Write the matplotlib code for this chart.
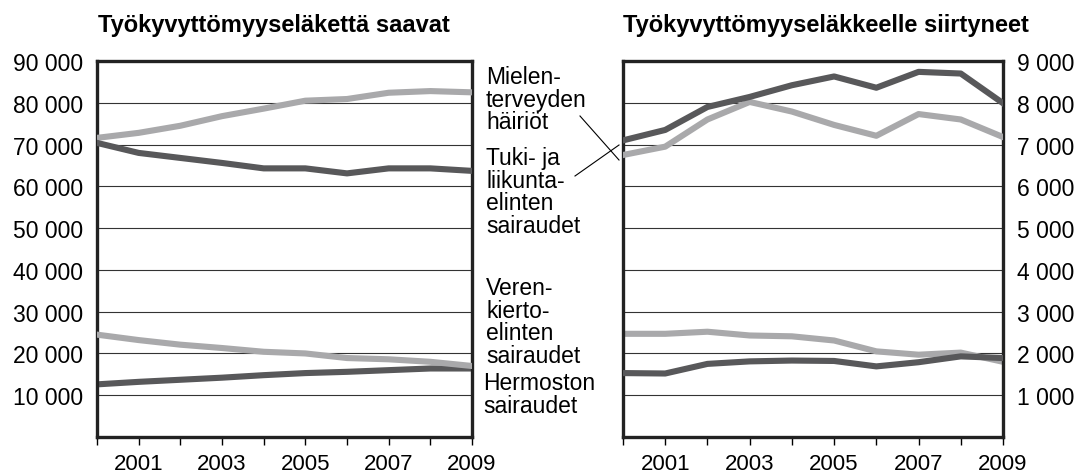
import matplotlib.pyplot as plt

plt.rcParams['font.family'] = ['Liberation Sans', 'DejaVu Sans']

years = [2000, 2001, 2002, 2003, 2004, 2005, 2006, 2007, 2008, 2009]

# Työkyvyttömyyseläkettä saavat
saavat_mielen = [71600, 72800, 74500, 76800, 78600, 80500, 80900, 82400, 82800, 82500]
saavat_tuki = [70400, 68000, 66800, 65600, 64300, 64300, 63100, 64300, 64300, 63700]
saavat_veren = [24500, 23200, 22100, 21300, 20400, 20000, 18900, 18600, 18000, 17000]
saavat_hermo = [12600, 13200, 13700, 14200, 14800, 15300, 15600, 16000, 16400, 16400]

# Työkyvyttömyyseläkkeelle siirtyneet
siirt_mielen = [6750, 6950, 7600, 8020, 7790, 7470, 7210, 7730, 7600, 7180]
siirt_tuki = [7100, 7350, 7900, 8140, 8420, 8630, 8360, 8740, 8700, 7990]
siirt_veren = [2470, 2470, 2520, 2430, 2410, 2310, 2050, 1970, 2020, 1800]
siirt_hermo = [1530, 1520, 1750, 1810, 1830, 1820, 1690, 1790, 1930, 1890]

left_ticks = [10000, 20000, 30000, 40000, 50000, 60000, 70000, 80000, 90000]
right_ticks = [1000, 2000, 3000, 4000, 5000, 6000, 7000, 8000, 9000]
year_labels = [2001, 2003, 2005, 2007, 2009]

dark = '#58585a'
light = '#a9a9ab'
W, H = 1080, 477

fig = plt.figure(figsize=(10.8, 4.77), dpi=100)
ax1 = fig.add_axes([97 / W, 39 / H, 375 / W, 376 / H])
ax2 = fig.add_axes([623 / W, 39 / H, 380 / W, 376 / H])


def style(ax, ticks, ymax, side):
    ax.set_xlim(2000, 2009)
    ax.set_ylim(0, ymax)
    for t in ticks[:-1]:
        ax.axhline(t, color='#333333', lw=0.8, zorder=1)
    ax.set_yticks(ticks)
    ax.set_yticklabels([f'{t:,}'.replace(',', ' ') for t in ticks], fontsize=16.5)
    ax.set_xticks(years)
    ax.set_xticklabels([str(y) if y in year_labels else '' for y in years], fontsize=16)
    ax.tick_params(axis='x', direction='out', length=5.5, width=1, pad=6)
    ax.tick_params(axis='y', length=0, pad=10)
    if side == 'right':
        ax.yaxis.tick_right()
    for s in ax.spines.values():
        s.set_linewidth(2.4)
        s.set_color('#222222')


style(ax1, left_ticks, 90000, 'left')
style(ax2, right_ticks, 9000, 'right')

lw = 4.4
ax1.plot(years, saavat_mielen, color=light, lw=lw, zorder=3)
ax1.plot(years, saavat_tuki, color=dark, lw=lw, zorder=3)
ax1.plot(years, saavat_hermo, color=dark, lw=lw, zorder=2)
ax1.plot(years, saavat_veren, color=light, lw=lw, zorder=3)

ax2.plot(years, siirt_mielen, color=light, lw=lw, zorder=3)
ax2.plot(years, siirt_tuki, color=dark, lw=lw, zorder=3)
ax2.plot(years, siirt_veren, color=light, lw=lw, zorder=2)
ax2.plot(years, siirt_hermo, color=dark, lw=lw, zorder=3)

fig.text(98 / W, 1 - 32 / H, 'Työkyvyttömyyseläkettä saavat', fontsize=17,
         fontweight='bold', va='baseline', ha='left')
fig.text(623 / W, 1 - 32 / H, 'Työkyvyttömyyseläkkeelle siirtyneet', fontsize=17,
         fontweight='bold', va='baseline', ha='left')

labels = [
    ('Mielen-\nterveyden\nhäiriöt', 486, 66),
    ('Tuki- ja\nliikunta-\nelinten\nsairaudet', 486, 147),
    ('Veren-\nkierto-\nelinten\nsairaudet', 486, 277),
    ('Hermoston\nsairaudet', 483, 372),
]
for txt, x, ytop in labels:
    fig.text(x / W, 1 - ytop / H, txt, fontsize=16.5, va='top', ha='left',
             linespacing=0.98)

# leader lines to the right chart
fig.add_artist(plt.Line2D([580 / W, 619 / W], [1 - 117 / H, 1 - 161 / H],
                          color='black', lw=0.8))
fig.add_artist(plt.Line2D([575 / W, 619 / W], [1 - 177 / H, 1 - 146 / H],
                          color='black', lw=0.8))

fig.savefig('out.png', dpi=100)
